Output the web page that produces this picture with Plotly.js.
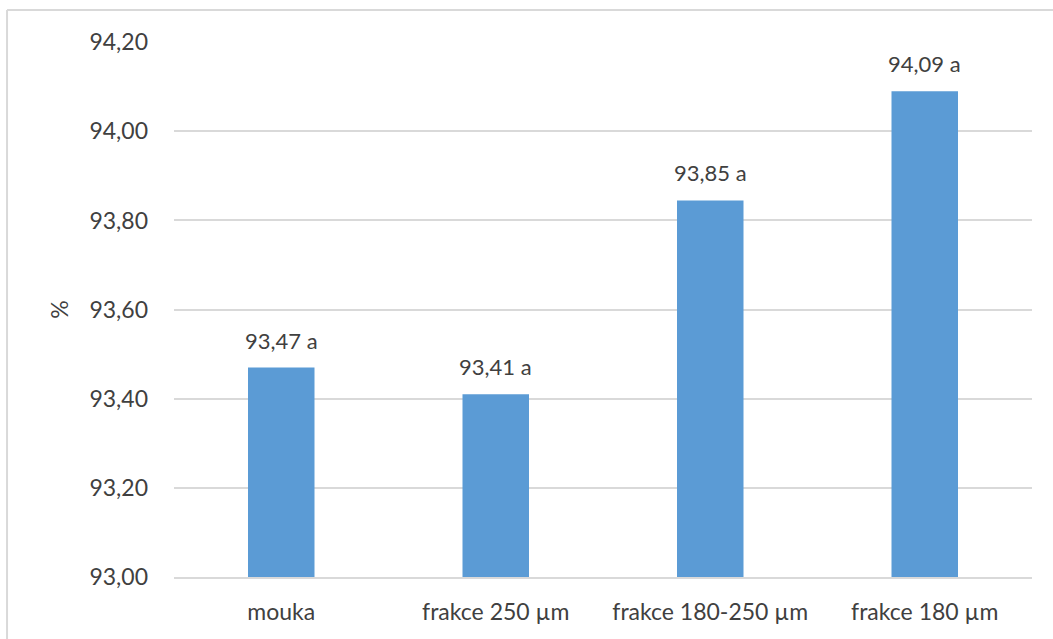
<!DOCTYPE html>
<html>
<head>
<meta charset="utf-8">
<script src="https://cdn.plot.ly/plotly-3.0.1.min.js"></script>
<style>html,body{margin:0;padding:0;background:#fff;}#chart{width:1053px;height:639px;}</style>
</head>
<body>
<div id="chart"></div>
<script>
const categories = ['mouka', 'frakce 250 µm', 'frakce 180-250 µm', 'frakce 180 µm'];
const values = [93.47, 93.41, 93.845, 94.09];
const labels = ['93,47 a', '93,41 a', '93,85 a', '94,09 a'];
const tickVals = [93.0, 93.2, 93.4, 93.6, 93.8, 94.0, 94.2];

const fontFam = 'Lato, "Open Sans", sans-serif';
const fsz = 23;
const trace = {
  type: 'bar',
  x: categories,
  y: values.map(v => v - 93.0),
  base: 93.0,
  marker: {color: '#5B9BD5'},
  hoverinfo: 'skip'
};

const annotations = categories.map((c, i) => ({
  x: c, y: values[i], xref: 'x', yref: 'y',
  text: labels[i], showarrow: false,
  yanchor: 'bottom', yshift: 12,
  font: {family: fontFam, size: fsz - 1, color: '#404040'}
}));

const shapes = [
  {type: 'line', xref: 'paper', yref: 'paper', x0: -0.1946, x1: -0.1946, y0: 1.0598, y1: -0.12,
   line: {color: '#d9d9d9', width: 2}},
  {type: 'line', xref: 'paper', yref: 'paper', x0: -0.1946, x1: 1.03, y0: 1.0598, y1: 1.0598,
   line: {color: '#d9d9d9', width: 2}}
];

const layout = {
  width: 1053, height: 639,
  margin: {l: 174, r: 21, t: 42, b: 62},
  paper_bgcolor: '#ffffff', plot_bgcolor: '#ffffff',
  separators: ',.',
  showlegend: false,
  bargap: 0.69,
  font: {family: fontFam, size: fsz, color: '#404040'},
  xaxis: {
    type: 'category',
    showgrid: false,
    showline: true, linecolor: '#d9d9d9', linewidth: 2,
    ticks: '', ticklabelstandoff: 13,
    tickfont: {family: fontFam, size: fsz, color: '#404040'}
  },
  yaxis: {
    range: [93.0, 94.2005],
    tickvals: tickVals,
    ticktext: tickVals.map(v => v.toFixed(2).replace('.', ',')),
    showgrid: true, gridcolor: '#d9d9d9', gridwidth: 2,
    zeroline: false, showline: false,
    ticks: '', ticklabelstandoff: 25,
    tickfont: {family: fontFam, size: fsz, color: '#404040'},
    title: {text: '%', standoff: 14, font: {family: fontFam, size: fsz, color: '#404040'}}
  },
  annotations: annotations,
  shapes: shapes
};

Plotly.newPlot('chart', [trace], layout, {displayModeBar: false, staticPlot: true});
</script>
</body>
</html>
